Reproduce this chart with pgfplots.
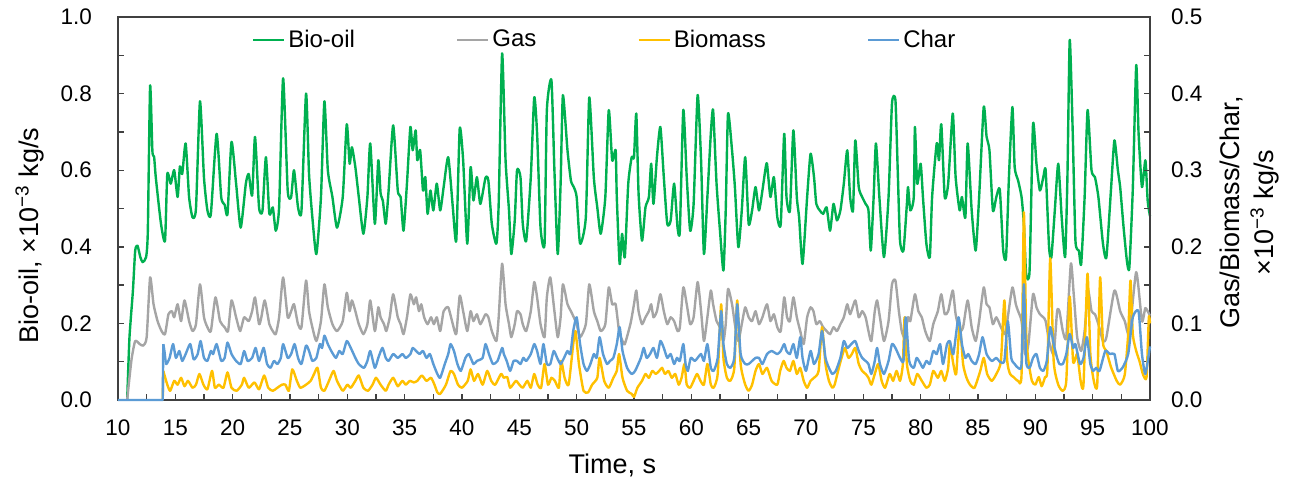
\documentclass[border=0pt]{standalone}
\usepackage{pgfplots}
\pgfplotsset{compat=1.18}
\usepackage{pgfplotstable}
\usepackage{fontspec}
\setmainfont{Liberation Sans}
\definecolor{cGreen}{HTML}{00B050}
\definecolor{cGray}{HTML}{A5A5A5}
\definecolor{cYellow}{HTML}{FFC000}
\definecolor{cBlue}{HTML}{5B9BD5}
\definecolor{cAxis}{HTML}{404040}

\pgfplotstableread{
t v
10.8 0
11.0 0.163
11.3 0.285
11.5 0.39
11.7 0.403
11.95 0.373
12.15 0.36
12.45 0.373
12.6 0.44
12.8 0.82
13.0 0.65
13.15 0.635
13.3 0.58
13.75 0.46
14.1 0.416
14.3 0.59
14.6 0.565
14.9 0.6
15.2 0.53
15.4 0.61
15.6 0.59
15.9 0.67
16.2 0.53
16.5 0.477
16.8 0.50
17.15 0.78
17.5 0.58
17.8 0.495
18.1 0.486
18.6 0.695
19.0 0.53
19.3 0.51
19.55 0.486
19.9 0.674
20.3 0.565
20.7 0.45
21.15 0.565
21.4 0.59
21.7 0.534
21.95 0.687
22.3 0.503
22.6 0.494
22.9 0.634
23.2 0.486
23.5 0.503
23.76 0.442
24.05 0.503
24.4 0.84
24.8 0.547
25.1 0.53
25.35 0.6
25.7 0.503
26.0 0.494
26.4 0.80
26.66 0.59
26.95 0.477
27.3 0.381
27.7 0.53
28.0 0.78
28.3 0.6
28.7 0.53
29.1 0.45
29.6 0.53
29.95 0.72
30.2 0.617
30.4 0.66
30.7 0.608
31.0 0.53
31.4 0.434
31.75 0.53
32.0 0.67
32.4 0.46
32.7 0.626
32.9 0.54
33.1 0.52
33.35 0.46
33.6 0.547
34.0 0.717
34.4 0.547
34.65 0.53
34.9 0.442
35.2 0.565
35.5 0.713
35.7 0.652
35.96 0.704
36.1 0.626
36.35 0.652
36.6 0.547
36.8 0.582
37.0 0.486
37.25 0.547
37.5 0.495
37.8 0.565
38.1 0.495
38.4 0.556
38.8 0.634
39.2 0.503
39.5 0.416
39.8 0.708
40.1 0.626
40.46 0.408
40.75 0.608
41.0 0.521
41.3 0.582
41.6 0.512
42.05 0.58
42.3 0.573
42.6 0.46
43.0 0.408
43.2 0.512
43.5 0.905
43.8 0.626
44.1 0.495
44.3 0.381
44.6 0.469
44.8 0.6
45.1 0.582
45.3 0.46
45.6 0.416
46.0 0.582
46.3 0.79
46.55 0.696
46.85 0.45
47.2 0.408
47.4 0.756
47.8 0.835
48.06 0.6
48.35 0.381
48.6 0.565
48.8 0.796
49.2 0.652
49.5 0.573
49.75 0.556
50.0 0.53
50.3 0.408
50.8 0.477
51.1 0.79
51.5 0.58
51.8 0.503
52.1 0.434
52.5 0.53
52.8 0.757
53.1 0.626
53.4 0.652
53.5 0.53
53.75 0.355
53.96 0.434
54.2 0.373
54.5 0.565
54.8 0.634
55.0 0.634
55.2 0.748
55.4 0.539
55.7 0.416
56.0 0.503
56.3 0.53
56.5 0.617
56.7 0.512
57.0 0.634
57.3 0.713
57.6 0.582
57.9 0.46
58.2 0.469
58.5 0.565
58.8 0.45
59.0 0.442
59.3 0.757
59.6 0.582
59.9 0.442
60.2 0.512
60.55 0.796
60.85 0.626
61.1 0.381
61.4 0.53
61.7 0.695
61.9 0.757
62.2 0.565
62.5 0.442
62.8 0.338
63.0 0.495
63.2 0.748
63.55 0.652
63.8 0.556
64.1 0.399
64.4 0.495
64.7 0.634
65.0 0.46
65.3 0.495
65.6 0.556
65.9 0.495
66.2 0.547
66.45 0.6
66.6 0.617
66.9 0.53
67.2 0.582
67.5 0.477
67.8 0.46
68.1 0.695
68.3 0.53
68.6 0.495
68.9 0.704
69.2 0.53
69.4 0.477
69.7 0.355
70.1 0.53
70.4 0.643
70.7 0.582
70.9 0.512
71.2 0.495
71.5 0.486
71.8 0.503
72.1 0.442
72.4 0.512
72.7 0.469
73.0 0.495
73.3 0.565
73.6 0.652
73.85 0.53
74.1 0.495
74.3 0.678
74.6 0.556
74.9 0.53
75.2 0.512
75.45 0.495
75.65 0.39
75.9 0.53
76.1 0.67
76.4 0.53
76.8 0.373
77.2 0.53
77.5 0.774
77.8 0.783
78.0 0.6
78.2 0.416
78.5 0.39
78.8 0.512
78.9 0.556
79.1 0.495
79.4 0.53
79.5 0.713
79.7 0.565
80.0 0.617
80.2 0.53
80.5 0.408
80.8 0.373
81.0 0.53
81.4 0.67
81.6 0.626
81.8 0.72
82.1 0.53
82.4 0.565
82.8 0.748
83.05 0.582
83.4 0.495
83.6 0.53
83.9 0.477
84.1 0.67
84.45 0.495
84.8 0.39
85.1 0.53
85.5 0.765
85.75 0.687
86.0 0.652
86.3 0.495
86.6 0.53
86.9 0.55
87.2 0.39
87.45 0.373
87.7 0.582
88.0 0.765
88.2 0.608
88.5 0.573
88.8 0.53
89.0 0.46
89.2 0.329
89.5 0.338
89.8 0.72
90.1 0.617
90.4 0.547
90.7 0.582
90.9 0.6
91.2 0.399
91.4 0.373
91.7 0.495
92.0 0.617
92.3 0.477
92.6 0.373
92.8 0.582
93.0 0.94
93.25 0.713
93.5 0.416
93.8 0.39
94.0 0.355
94.3 0.53
94.56 0.757
94.9 0.6
95.2 0.582
95.5 0.53
95.9 0.408
96.2 0.373
96.6 0.55
96.9 0.678
97.2 0.6
97.4 0.556
97.7 0.45
98.0 0.36
98.2 0.346
98.5 0.55
98.8 0.874
99.0 0.7
99.3 0.556
99.6 0.626
99.8 0.52
100 0.48
}\biooil

\pgfplotstableread{
t v
10.8 0
11.0 0.029
11.2 0.055
11.5 0.077
11.9 0.073
12.2 0.071
12.5 0.082
12.8 0.16
13.1 0.125
13.45 0.103
13.8 0.09
14.1 0.086
14.4 0.112
14.7 0.116
14.9 0.108
15.2 0.125
15.5 0.103
15.8 0.13
16.2 0.103
16.5 0.09
16.8 0.099
17.15 0.151
17.5 0.108
17.8 0.095
18.1 0.09
18.5 0.134
18.9 0.103
19.3 0.095
19.6 0.09
19.9 0.13
20.3 0.108
20.65 0.09
21.0 0.108
21.4 0.103
21.7 0.116
21.95 0.134
22.3 0.099
22.5 0.108
22.8 0.13
23.2 0.099
23.5 0.09
23.76 0.086
24.05 0.108
24.4 0.16
24.8 0.108
25.1 0.116
25.35 0.125
25.7 0.099
26.0 0.095
26.4 0.156
26.66 0.116
26.95 0.095
27.3 0.077
27.7 0.103
28.0 0.151
28.3 0.121
28.7 0.099
29.1 0.09
29.6 0.103
29.95 0.14
30.2 0.116
30.4 0.13
30.7 0.116
31.0 0.099
31.4 0.086
31.75 0.099
32.0 0.13
32.4 0.09
32.7 0.121
32.9 0.108
33.2 0.099
33.4 0.09
33.7 0.108
34.0 0.138
34.4 0.108
34.65 0.099
34.9 0.086
35.2 0.108
35.5 0.138
35.8 0.125
36.0 0.134
36.25 0.116
36.45 0.125
36.7 0.108
37.0 0.099
37.3 0.108
37.55 0.099
37.8 0.108
38.1 0.09
38.4 0.116
38.8 0.121
39.2 0.099
39.5 0.086
39.8 0.136
40.1 0.116
40.46 0.09
40.75 0.116
41.0 0.103
41.3 0.112
41.6 0.099
42.05 0.112
42.3 0.108
42.6 0.09
43.0 0.077
43.2 0.108
43.5 0.178
43.8 0.125
44.1 0.099
44.3 0.082
44.6 0.099
44.8 0.116
45.1 0.112
45.3 0.099
45.6 0.09
46.0 0.116
46.3 0.154
46.55 0.134
46.85 0.099
47.2 0.082
47.4 0.134
47.7 0.16
48.06 0.116
48.35 0.082
48.6 0.108
48.8 0.151
49.2 0.125
49.5 0.116
49.75 0.108
50.0 0.099
50.3 0.082
50.8 0.099
51.1 0.151
51.5 0.116
51.8 0.103
52.1 0.09
52.5 0.099
52.8 0.147
53.1 0.125
53.4 0.125
53.7 0.09
54.0 0.077
54.2 0.073
54.7 0.1
55.0 0.125
55.2 0.143
55.4 0.116
55.7 0.099
56.0 0.108
56.3 0.116
56.5 0.125
56.7 0.108
57.0 0.116
57.3 0.138
57.6 0.116
57.9 0.099
58.2 0.108
58.5 0.103
58.8 0.09
59.0 0.095
59.3 0.147
59.6 0.125
59.9 0.099
60.2 0.108
60.55 0.154
60.85 0.116
61.1 0.077
61.4 0.108
61.7 0.143
61.9 0.125
62.2 0.103
62.5 0.095
62.8 0.077
63.0 0.099
63.2 0.145
63.55 0.125
63.8 0.099
64.1 0.077
64.4 0.099
64.7 0.121
65.0 0.108
65.3 0.103
65.6 0.116
65.9 0.099
66.2 0.108
66.6 0.125
66.9 0.103
67.2 0.112
67.5 0.095
67.8 0.09
68.1 0.134
68.35 0.108
68.6 0.103
68.9 0.134
69.2 0.108
69.5 0.09
69.8 0.073
70.1 0.108
70.4 0.121
70.65 0.116
70.9 0.099
71.2 0.103
71.5 0.095
71.8 0.09
72.1 0.086
72.4 0.095
72.7 0.09
73.0 0.099
73.3 0.108
73.6 0.125
73.85 0.112
74.3 0.13
74.6 0.108
74.9 0.116
75.2 0.108
75.45 0.09
75.7 0.077
76.0 0.116
76.2 0.13
76.45 0.108
76.8 0.077
77.2 0.103
77.5 0.151
77.8 0.156
78.1 0.116
78.35 0.09
78.6 0.082
78.9 0.108
79.1 0.103
79.5 0.138
79.8 0.116
80.1 0.108
80.4 0.09
80.8 0.077
81.1 0.099
81.5 0.116
81.8 0.138
82.1 0.112
82.4 0.116
82.8 0.143
83.05 0.112
83.4 0.09
83.7 0.095
84.1 0.13
84.45 0.095
84.8 0.077
85.1 0.103
85.5 0.147
85.75 0.125
86.0 0.121
86.3 0.099
86.6 0.108
87.0 0.095
87.35 0.086
87.6 0.108
88.0 0.147
88.3 0.125
88.5 0.116
88.8 0.103
89.1 0.06
89.4 0.073
89.8 0.138
90.1 0.121
90.4 0.112
90.7 0.108
90.9 0.103
91.2 0.077
91.6 0.06
91.9 0.116
92.1 0.116
92.4 0.09
92.7 0.082
93.1 0.178
93.35 0.138
93.65 0.082
94.0 0.064
94.3 0.09
94.6 0.143
94.9 0.116
95.2 0.112
95.5 0.099
95.9 0.077
96.2 0.082
96.9 0.143
97.4 0.116
97.8 0.103
98.2 0.086
98.8 0.167
99.3 0.103
99.6 0.12
100 0.11
}\gas

\pgfplotstableread{
t v
13.95 0.038
14.3 0.02
14.55 0.012
14.9 0.025
15.2 0.02
15.5 0.029
15.8 0.018
16.1 0.025
16.5 0.016
16.8 0.02
17.1 0.034
17.45 0.02
17.8 0.014
18.2 0.038
18.45 0.016
18.8 0.02
19.2 0.016
19.55 0.036
19.9 0.016
20.35 0.012
20.8 0.02
21.0 0.029
21.4 0.016
21.9 0.023
22.3 0.014
22.75 0.032
23.1 0.016
23.5 0.012
23.9 0.016
24.3 0.02
24.6 0.02
24.9 0.012
25.2 0.04
25.6 0.025
25.9 0.016
26.4 0.02
26.8 0.025
27.1 0.034
27.4 0.042
27.7 0.016
28.0 0.012
28.4 0.025
28.8 0.038
29.1 0.025
29.6 0.012
30.0 0.02
30.3 0.016
30.7 0.025
31.0 0.032
31.4 0.016
31.8 0.012
32.2 0.02
32.5 0.029
32.9 0.02
33.35 0.012
33.6 0.02
34.0 0.029
34.4 0.018
34.8 0.025
35.1 0.02
35.45 0.025
35.8 0.023
36.1 0.025
36.5 0.032
36.9 0.025
37.3 0.029
37.6 0.02
37.85 0.01
38.1 0.008
38.6 0.02
39.0 0.038
39.3 0.034
39.65 0.02
40.0 0.016
40.5 0.025
40.75 0.04
41.05 0.025
41.4 0.034
41.8 0.02
42.2 0.038
42.55 0.025
42.9 0.02
43.4 0.034
43.65 0.029
43.95 0.03
44.2 0.016
44.7 0.025
45.0 0.02
45.3 0.016
45.7 0.025
46.0 0.016
46.3 0.034
46.6 0.02
46.9 0.016
47.2 0.047
47.5 0.02
47.8 0.029
48.1 0.025
48.45 0.016
48.65 0.051
48.95 0.029
49.3 0.02
49.7 0.073
49.9 0.09
50.2 0.047
50.6 0.012
51.0 0.01
51.35 0.02
51.8 0.029
52.0 0.055
52.4 0.025
52.8 0.016
53.2 0.029
53.5 0.038
53.7 0.06
54.0 0.029
54.4 0.012
54.8 0.008
55.0 0.004
55.3 0.016
55.7 0.025
56.0 0.034
56.3 0.029
56.6 0.038
56.9 0.034
57.2 0.038
57.45 0.042
57.7 0.034
58.0 0.038
58.3 0.029
58.6 0.034
58.9 0.02
59.15 0.029
59.4 0.047
59.6 0.02
59.9 0.016
60.2 0.025
60.5 0.034
60.8 0.025
61.1 0.02
61.4 0.047
61.7 0.02
61.95 0.016
62.3 0.034
62.6 0.125
62.8 0.055
63.1 0.029
63.4 0.025
63.75 0.042
64.0 0.13
64.3 0.047
64.7 0.02
65.0 0.012
65.3 0.02
65.6 0.038
65.9 0.047
66.2 0.034
66.6 0.042
67.0 0.025
67.5 0.02
67.75 0.038
68.05 0.051
68.3 0.042
68.6 0.038
68.9 0.051
69.2 0.034
69.5 0.042
69.8 0.025
70.1 0.016
70.4 0.025
70.7 0.029
71.1 0.038
71.4 0.095
71.7 0.047
72.0 0.025
72.3 0.016
72.5 0.02
72.8 0.038
73.1 0.055
73.4 0.068
73.7 0.055
74.0 0.06
74.3 0.068
74.6 0.047
74.9 0.038
75.2 0.034
75.45 0.029
75.7 0.02
76.0 0.034
76.3 0.047
76.6 0.025
76.9 0.016
77.3 0.034
77.6 0.025
77.9 0.038
78.2 0.025
78.45 0.047
78.6 0.108
78.8 0.047
79.1 0.025
79.4 0.02
79.7 0.034
80.1 0.025
80.5 0.016
80.8 0.02
81.1 0.038
81.5 0.029
81.8 0.038
82.1 0.025
82.4 0.042
82.55 0.073
82.85 0.047
83.1 0.034
83.4 0.099
83.7 0.047
84.0 0.029
84.3 0.02
84.7 0.016
85.2 0.038
85.5 0.055
85.8 0.034
86.2 0.025
86.6 0.034
87.0 0.051
87.3 0.13
87.55 0.051
87.8 0.034
88.1 0.03
88.5 0.025
88.8 0.034
89.0 0.245
89.2 0.09
89.4 0.051
89.7 0.025
90.0 0.02
90.3 0.03
90.55 0.018
90.85 0.03
91.05 0.04
91.3 0.185
91.6 0.051
92.0 0.02
92.4 0.012
92.7 0.025
93.0 0.135
93.3 0.05
93.65 0.06
93.95 0.025
94.2 0.02
94.55 0.165
94.8 0.06
95.1 0.025
95.4 0.02
95.65 0.16
95.9 0.075
96.2 0.064
96.6 0.043
97.1 0.025
97.4 0.02
97.8 0.033
98.1 0.086
98.3 0.156
98.5 0.086
98.8 0.064
99.1 0.05
99.4 0.033
99.7 0.03
99.9 0.108
100 0.1
}\biomass

\pgfplotstableread{
t v
13.95 0.073
14.05 0.064
14.2 0.047
14.5 0.055
14.8 0.073
15.05 0.055
15.35 0.064
15.6 0.051
15.9 0.06
16.3 0.073
16.6 0.053
16.95 0.06
17.2 0.077
17.5 0.055
17.8 0.051
18.1 0.064
18.3 0.06
18.6 0.073
19.0 0.051
19.3 0.055
19.55 0.075
19.9 0.06
20.3 0.051
20.7 0.047
21.0 0.064
21.3 0.051
21.7 0.055
22.0 0.068
22.3 0.051
22.7 0.068
23.0 0.047
23.3 0.042
23.6 0.051
23.9 0.047
24.2 0.055
24.4 0.073
24.8 0.055
25.1 0.06
25.4 0.073
25.7 0.055
26.0 0.047
26.4 0.071
26.66 0.064
26.95 0.051
27.3 0.055
27.6 0.073
27.8 0.068
28.0 0.084
28.3 0.073
28.6 0.064
29.0 0.055
29.3 0.064
29.6 0.06
29.95 0.077
30.3 0.068
30.7 0.055
31.0 0.047
31.45 0.042
31.75 0.051
32.0 0.064
32.4 0.042
32.7 0.055
33.06 0.068
33.35 0.055
33.6 0.051
34.0 0.06
34.4 0.055
34.8 0.06
35.1 0.055
35.5 0.06
35.7 0.068
36.0 0.064
36.3 0.06
36.6 0.064
36.9 0.055
37.2 0.06
37.5 0.047
37.85 0.034
38.1 0.029
38.5 0.047
38.8 0.06
39.0 0.073
39.3 0.064
39.6 0.047
39.9 0.038
40.3 0.055
40.6 0.06
41.0 0.047
41.3 0.051
41.8 0.055
42.05 0.073
42.35 0.06
42.7 0.047
43.1 0.051
43.5 0.068
43.65 0.06
43.9 0.051
44.2 0.038
44.5 0.051
44.8 0.051
45.1 0.047
45.35 0.055
45.6 0.051
46.0 0.06
46.3 0.073
46.55 0.064
46.85 0.047
47.1 0.073
47.4 0.047
47.7 0.047
48.0 0.064
48.3 0.055
48.6 0.047
48.9 0.055
49.2 0.064
49.45 0.06
49.7 0.09
50.0 0.108
50.3 0.073
50.6 0.047
50.9 0.038
51.2 0.047
51.5 0.06
51.75 0.055
52.0 0.082
52.3 0.06
52.65 0.047
52.9 0.051
53.2 0.055
53.5 0.073
53.75 0.095
54.0 0.064
54.4 0.042
54.8 0.034
55.1 0.038
55.6 0.055
55.85 0.068
56.1 0.055
56.4 0.06
56.7 0.068
57.0 0.055
57.3 0.077
57.6 0.068
57.9 0.055
58.2 0.06
58.5 0.047
58.75 0.055
59.0 0.051
59.3 0.073
59.5 0.047
59.7 0.038
59.95 0.055
60.3 0.051
60.55 0.055
60.85 0.06
61.1 0.051
61.4 0.073
61.7 0.042
61.95 0.038
62.3 0.055
62.6 0.116
62.8 0.073
63.1 0.047
63.4 0.042
63.75 0.055
64.0 0.125
64.3 0.06
64.7 0.047
65.0 0.047
65.3 0.051
65.6 0.055
65.9 0.055
66.2 0.047
66.6 0.06
67.0 0.064
67.5 0.06
67.8 0.064
68.1 0.073
68.3 0.064
68.6 0.06
68.9 0.073
69.2 0.055
69.5 0.082
69.7 0.055
70.0 0.038
70.4 0.064
70.7 0.047
71.1 0.06
71.4 0.09
71.7 0.055
72.0 0.042
72.3 0.034
72.6 0.038
73.0 0.055
73.3 0.077
73.6 0.068
73.95 0.073
74.3 0.077
74.6 0.064
74.9 0.055
75.2 0.051
75.45 0.047
75.7 0.034
76.0 0.051
76.2 0.068
76.45 0.047
76.8 0.034
77.2 0.051
77.5 0.073
77.8 0.068
78.2 0.055
78.5 0.051
78.7 0.108
79.0 0.051
79.4 0.042
79.65 0.055
80.0 0.047
80.2 0.042
80.5 0.051
80.8 0.047
81.1 0.064
81.4 0.06
81.7 0.073
81.95 0.047
82.3 0.073
82.55 0.077
82.85 0.06
83.3 0.108
83.6 0.073
83.9 0.055
84.15 0.06
84.45 0.051
84.8 0.047
85.1 0.06
85.4 0.082
85.75 0.06
86.2 0.051
86.6 0.055
86.9 0.05
87.3 0.051
87.6 0.103
87.9 0.055
88.2 0.047
88.5 0.042
88.8 0.047
89.0 0.151
89.2 0.051
89.5 0.042
89.8 0.055
90.1 0.06
90.4 0.042
90.7 0.038
91.0 0.051
91.3 0.095
91.6 0.073
91.9 0.055
92.1 0.047
92.4 0.047
92.7 0.06
93.0 0.086
93.3 0.068
93.5 0.073
93.9 0.047
94.2 0.055
94.5 0.082
94.8 0.047
95.05 0.038
95.3 0.042
95.6 0.038
96.1 0.064
96.5 0.06
96.9 0.06
97.2 0.038
97.6 0.042
98.1 0.06
98.5 0.108
99.0 0.116
99.3 0.06
99.6 0.034
100 0.07
}\charr

\pgfplotsset{
  every axis/.append style={
    scale only axis, width=516pt, height=191.5pt,
    at={(0pt,0pt)}, anchor=south west,
    xmin=10, xmax=100,
    clip=false,
    tick align=inside,
    major tick length=3pt, minor tick length=3pt,
    every tick/.style={cAxis, line width=0.7pt},
    axis line style={cAxis, line width=0.8pt},
    tick label style={font=\fontsize{11.25}{13}\selectfont},
    /pgf/number format/assume math mode=true,
  },
  ser/.style={line width=1.2pt, line join=round, smooth, tension=0.35},
  flat/.style={line width=1.2pt, line join=round, forget plot},
}

\begin{document}
\begin{tikzpicture}
\useasboundingbox (-59pt,-42pt) rectangle (586pt,200pt);
\begin{axis}[
  ymin=0, ymax=1,
  xtick={10,15,...,100}, minor xtick={12.5,17.5,...,97.5},
  ytick={0,0.2,0.4,0.6,0.8,1}, minor ytick={0.1,0.3,0.5,0.7,0.9},
  xtick pos=bottom, ytick pos=left,
  yticklabel style={/pgf/number format/.cd, fixed, fixed zerofill, precision=1},
  yticklabel shift=9.5pt,
  xticklabel shift=6.5pt,
  xlabel={Time, s},
  ylabel={Bio-oil, ×10\textsuperscript{−3} kg/s},
  every axis x label/.style={at={(axis description cs:0.479,0)}, yshift=-32.5pt, anchor=center, font=\fontsize{13.5}{16}\selectfont},
  every axis y label/.style={at={(axis description cs:-0.0853,0.43)}, rotate=90, anchor=center, font=\fontsize{13.5}{16}\selectfont},
]
\addplot[flat, cGreen] coordinates {(10,0) (10.8,0)};
\addplot[ser, cGreen] table[x=t, y=v] {\biooil};
\end{axis}
\begin{axis}[
  ymin=0, ymax=0.5,
  axis x line=none,
  axis y line*=right,
  ytick={0,0.1,0.2,0.3,0.4,0.5}, minor ytick={0.05,0.15,0.25,0.35,0.45},
  yticklabel style={/pgf/number format/.cd, fixed, fixed zerofill, precision=1},
  yticklabel shift=7pt,
  ylabel={Gas/Biomass/Char,\\×10\textsuperscript{−3} kg/s},
  every axis y label/.style={at={(axis description cs:1.0969,0.49)}, rotate=90, anchor=center, align=center, font=\fontsize{13.5}{17}\selectfont},
  legend columns=4,
  legend image code/.code={\draw[#1, smooth=false] (0pt,0pt) -- (15.5pt,0pt);},
  legend style={at={(axis description cs:0.472,0.94)}, anchor=center, draw=none, fill=none,
    font=\fontsize{12}{14}\selectfont, inner sep=0pt,
    nodes={inner sep=1.5pt},
    /tikz/every even column/.append style={column sep=49pt}},
]
\addlegendimage{ser, cGreen}
\addlegendentry{Bio-oil}
\addplot[flat, cGray] coordinates {(10,0) (10.8,0)};
\addplot[ser, cGray] table[x=t, y=v] {\gas};
\addlegendentry{Gas}
\addplot[flat, cYellow] coordinates {(13.9,0) (13.95,0.038)};
\addplot[ser, cYellow] table[x=t, y=v] {\biomass};
\addlegendentry{Biomass}
\addplot[flat, cBlue] coordinates {(10,0) (13.9,0) (13.95,0.073)};
\addplot[ser, cBlue] table[x=t, y=v] {\charr};
\addlegendentry{Char}
\end{axis}
\end{tikzpicture}
\end{document}
